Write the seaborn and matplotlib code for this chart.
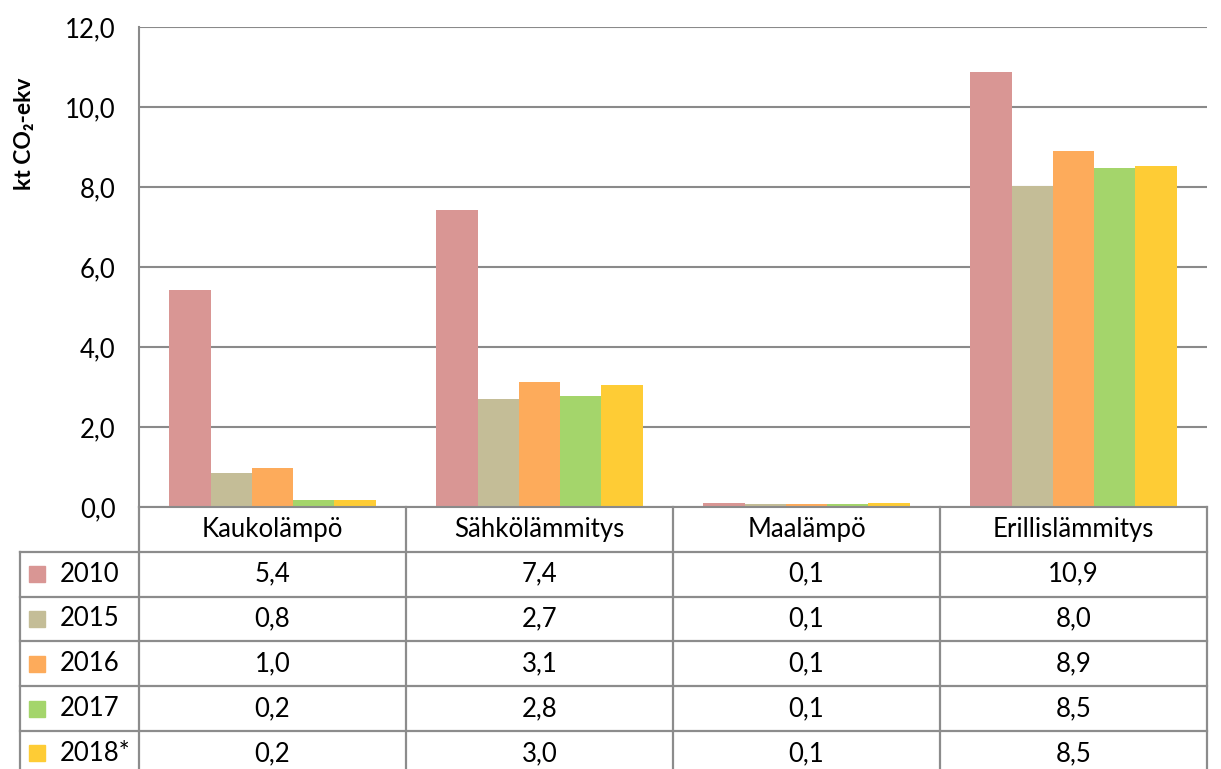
import numpy as np
import pandas as pd
import seaborn as sns
import matplotlib.pyplot as plt
from matplotlib.patches import Rectangle

# data
categories = ['Kaukolämpö', 'Sähkölämmitys', 'Maalämpö', 'Erillislämmitys']
years = ['2010', '2015', '2016', '2017', '2018*']
v2010 = [5.43, 7.43, 0.10, 10.87]
v2015 = [0.84, 2.70, 0.07, 8.03]
v2016 = [0.97, 3.12, 0.08, 8.90]
v2017 = [0.18, 2.78, 0.08, 8.48]
v2018 = [0.18, 3.04, 0.09, 8.53]
colors = ['#D99694', '#C4BD97', '#FDAB5B', '#A4D56B', '#FECC35']
yticks = [0, 2, 4, 6, 8, 10, 12]

series = [v2010, v2015, v2016, v2017, v2018]
df = pd.DataFrame({
    'kategoria': np.tile(categories, len(years)),
    'vuosi': np.repeat(years, len(categories)),
    'arvo': np.concatenate(series),
})

plt.rcParams['font.family'] = ['Lato', 'DejaVu Sans']
W, H = 1221, 769
fig = plt.figure(figsize=(W / 100, H / 100), dpi=100)
gridc = '#8a8a8a'
fs = 18.5

# plot area in pixels: x 139..1207, y 27..507
ax = fig.add_axes([139 / W, (H - 507) / H, 1068 / W, 480 / H])
sns.barplot(data=df, x='kategoria', y='arvo', hue='vuosi', order=categories,
            hue_order=years, palette=colors, saturation=1, width=0.772, gap=0,
            errorbar=None, legend=False, linewidth=0, ax=ax)
ax.set_xlim(-0.5, 3.5)
ax.set_ylim(0, 12)
ax.set_yticks(yticks)
ax.set_yticklabels([f'{t:.1f}'.replace('.', ',') for t in yticks])
ax.set_xticks([])
ax.set_xlabel('')
ax.set_ylabel('')
ax.tick_params(axis='y', length=0, pad=17, labelsize=fs)
ax.grid(axis='y', color=gridc, lw=1.5)
ax.set_axisbelow(True)
for s in ['top', 'right']:
    ax.spines[s].set_visible(False)
for s in ['left', 'bottom']:
    ax.spines[s].set_color(gridc)
    ax.spines[s].set_linewidth(1.5)

fig.text(24 / W, 1 - 134 / H, 'kt CO\u2082-ekv', rotation=90, ha='center',
         va='center', fontsize=16.5, fontweight='bold')

# data table below the bars
px_cat = 1068 / 4
row_h = 44.8
x_left = -0.5 - 119 / px_cat
tab = fig.add_axes([20 / W, 0, 1187 / W, (H - 507) / H])
tab.set_xlim(x_left, 3.5)
tab.set_ylim((H - 507) / row_h, 0)
tab.axis('off')
tc = '#8c8c8c'
bottom = (H - 507) / row_h + 0.2
for k in range(1, len(years) + 1):
    tab.plot([x_left, 3.5], [k, k], color=tc, lw=1.6, clip_on=False)
for i in range(len(categories) + 1):
    tab.plot([i - 0.5, i - 0.5], [0, bottom], color=tc, lw=1.6, clip_on=False)
tab.plot([x_left, x_left], [1, bottom], color=tc, lw=1.6, clip_on=False)

for i, c in enumerate(categories):
    tab.text(i, 0.5, c, ha='center', va='center', fontsize=fs)
for r, (yr, vals, col) in enumerate(zip(years, series, colors)):
    yc = r + 1.5
    tab.add_patch(Rectangle((x_left + 9 / px_cat, yc - 8 / row_h), 16 / px_cat,
                            16 / row_h, color=col, clip_on=False))
    tab.text(x_left + 40 / px_cat, yc, yr, ha='left', va='center', fontsize=fs)
    for i, v in enumerate(vals):
        tab.text(i, yc, f'{v:.1f}'.replace('.', ','), ha='center', va='center',
                 fontsize=fs)

fig.savefig('out.png', dpi=100)
